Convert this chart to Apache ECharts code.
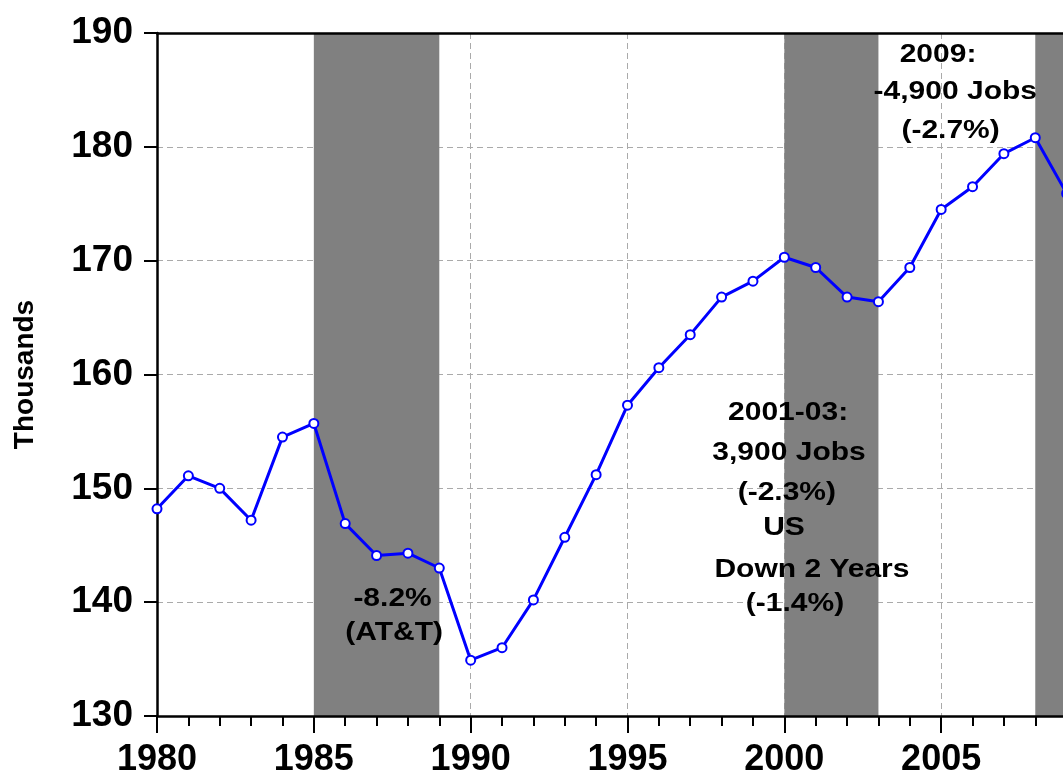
<!DOCTYPE html>
<html>
	<head>
		<meta charset="utf-8" />
		<title>Thousands</title>
		<script src="https://cdn.jsdelivr.net/npm/echarts@6/dist/echarts.min.js"></script>
		<style>
			html, body { margin: 0; padding: 0; background: #fff; }
		</style>
	</head>
	<body>
		<div id="demo1" style="width: 1063px;height: 773px;"></div>
		<script type="text/javascript">
			// 数据
			var years = [1980, 1981, 1982, 1983, 1984, 1985, 1986, 1987, 1988, 1989,
				1990, 1991, 1992, 1993, 1994, 1995, 1996, 1997, 1998, 1999,
				2000, 2001, 2002, 2003, 2004, 2005, 2006, 2007, 2008, 2009];
			var jobs = [148.2, 151.1, 150.0, 147.2, 154.5, 155.7, 146.9, 144.1, 144.3, 143.0,
				134.9, 136.0, 140.2, 145.7, 151.2, 157.3, 160.6, 163.5, 166.8, 168.2,
				170.3, 169.4, 166.8, 166.4, 169.4, 174.5, 176.5, 179.4, 180.8, 175.9];
			var shadeStart = [1985, 2000, 2008];
			var shadeEnd = [1989, 2003, 2010];
			var notes = [
				['2009:', 2004.9, 188.1],
				['-4,900 Jobs', 2005.45, 184.8],
				['(-2.7%)', 2005.3, 181.4],
				['2001-03:', 2000.12, 156.6],
				['3,900 Jobs', 2000.15, 153.1],
				['(-2.3%)', 2000.08, 149.6],
				['US', 1999.99, 146.5],
				['Down 2 Years', 2000.88, 142.8],
				['(-1.4%)', 2000.34, 139.8],
				['-8.2%', 1987.51, 140.3],
				['(AT&T)', 1987.56, 137.3]
			];

			var font = "'Liberation Sans', Arial, sans-serif";
			var pts = years.map(function(y, i){ return [y, jobs[i]]; });
			var areas = shadeStart.map(function(s, i){ return [{xAxis: s}, {xAxis: shadeEnd[i]}]; });
			var plain = function(v){ return String(v); };

			var myChart = echarts.init(document.getElementById('demo1'));
			myChart.setOption({
				animation: false,
				grid: {left: 157, right: -35, top: 33, bottom: 57, outerBoundsMode: 'none', containLabel: false},
				xAxis: [{
					type: 'value', min: 1980, max: 2010, interval: 5, position: 'bottom', z: 10,
					axisLine: {show: true, lineStyle: {color: '#000', width: 2.5}},
					axisTick: {show: true, length: 17, lineStyle: {color: '#000', width: 2}},
					axisLabel: {fontFamily: font, fontWeight: 'bold', fontSize: 36, color: '#000', margin: 26,
						formatter: plain, showMaxLabel: false},
					splitLine: {show: false}
				}, {
					type: 'value', min: 1980, max: 2010, interval: 1, position: 'bottom', z: 10,
					axisLine: {show: false},
					axisTick: {show: true, length: 10, lineStyle: {color: '#000', width: 2}},
					axisLabel: {show: false},
					splitLine: {show: false}
				}, {
					type: 'value', min: 1980, max: 2010, interval: 5, position: 'top', z: 10,
					axisLine: {show: true, lineStyle: {color: '#000', width: 2.5}},
					axisTick: {show: false},
					axisLabel: {show: false},
					splitLine: {show: false}
				}, {
					type: 'value', min: 1980, max: 2010, interval: 5, position: 'bottom', z: 0,
					axisLine: {show: false},
					axisTick: {show: false},
					axisLabel: {show: false},
					splitLine: {show: true, lineStyle: {color: '#aaa', type: [6, 4], width: 1}}
				}],
				yAxis: {
					type: 'value', min: 130, max: 190, interval: 10,
					name: 'Thousands', nameLocation: 'middle', nameGap: 118, nameRotate: 90,
					nameTextStyle: {fontFamily: font, fontWeight: 'bold', fontSize: 28, color: '#000'},
					axisLine: {show: true, lineStyle: {color: '#000', width: 2.5}},
					axisTick: {show: true, length: 13, lineStyle: {color: '#000', width: 2}},
					axisLabel: {fontFamily: font, fontWeight: 'bold', fontSize: 37, color: '#000', margin: 24},
					splitLine: {show: true, lineStyle: {color: '#aaa', type: [6, 4], width: 1}}
				},
				series: [{
					type: 'line',
					data: pts,
					symbol: 'circle',
					symbolSize: 9,
					lineStyle: {color: '#0000ff', width: 3},
					itemStyle: {color: '#fff', borderColor: '#0000ff', borderWidth: 2},
					markArea: {
						silent: true,
						itemStyle: {color: '#808080', opacity: 1},
						data: areas
					}
				}]
			});

			// 标注文字
			var texts = notes.map(function(n){
				var p = myChart.convertToPixel({gridIndex: 0}, [n[1], n[2]]);
				return {
					type: 'text', x: p[0], y: p[1], scaleX: 1.2, z: 100,
					style: {
						text: n[0], fill: '#000', align: 'center', verticalAlign: 'middle',
						font: 'bold 25px ' + font
					}
				};
			});
			myChart.setOption({graphic: texts});
		</script>
	</body>
</html>
